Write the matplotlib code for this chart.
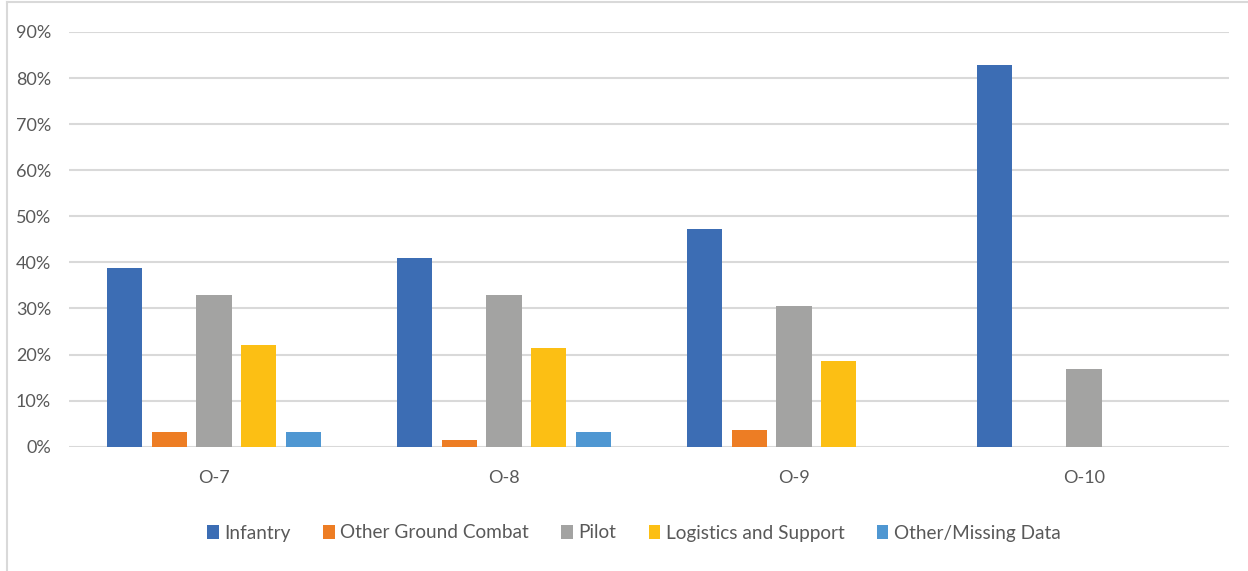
"""
Distribuição de especialidade por posto (O-7 a O-10) — gráfico de barras agrupadas.
"""

import matplotlib
matplotlib.use('Agg')  # Backend sem GUI
import matplotlib.pyplot as plt
from matplotlib import font_manager
from matplotlib.patches import Patch
from matplotlib.lines import Line2D
from matplotlib.ticker import FuncFormatter
import numpy as np

# Dados
categorias = ["O-7", "O-8", "O-9", "O-10"]
series = ["Infantry", "Other Ground Combat", "Pilot", "Logistics and Support", "Other/Missing Data"]
infantry = [0.387, 0.410, 0.473, 0.829]
other_ground = [0.031, 0.014, 0.037, 0.0]
pilot = [0.329, 0.329, 0.306, 0.169]
logistics = [0.220, 0.214, 0.186, 0.0]
other_missing = [0.031, 0.031, 0.0, 0.0]
y_ticks = [0.0, 0.1, 0.2, 0.3, 0.4, 0.5, 0.6, 0.7, 0.8, 0.9]

valores = [infantry, other_ground, pilot, logistics, other_missing]
cores = ["#3C6DB4", "#ED7D24", "#A3A3A2", "#FCBF14", "#4F97D2"]

# Fonte estreita parecida com Calibri
nomes = {f.name for f in font_manager.fontManager.ttflist}
fonte = "Liberation Sans Narrow" if "Liberation Sans Narrow" in nomes else "Lato"
plt.rcParams['font.family'] = [fonte, 'DejaVu Sans']
cor_texto = "#595959"
cor_grade = "#D9D9D9"

W, H = 1248, 571
fig = plt.figure(figsize=(W / 100, H / 100), dpi=100)
ax = fig.add_axes([69 / W, 1 - 446.7 / H, 1160 / W, 414.7 / H])

x = np.arange(len(categorias))
passo = 0.154
largura = 0.121
for i, (nome, vals, cor) in enumerate(zip(series, valores, cores)):
    ax.bar(x + (i - 2) * passo, vals, width=largura, color=cor, label=nome, zorder=3)

ax.set_xlim(-0.5, len(categorias) - 0.5)
ax.set_ylim(0, 0.9)
ax.set_yticks(y_ticks)
ax.yaxis.set_major_formatter(FuncFormatter(lambda v, p: f"{v * 100:.0f}%"))
ax.set_xticks(x)
ax.set_xticklabels(categorias)

ax.grid(axis='y', color=cor_grade, linewidth=1.5, zorder=0)
ax.set_axisbelow(True)
for s in ax.spines.values():
    s.set_visible(False)
ax.tick_params(axis='both', length=0, labelsize=13, colors=cor_texto)
ax.tick_params(axis='y', pad=13)
ax.tick_params(axis='x', pad=17)

# Legenda
handles = [Patch(facecolor=c, edgecolor='none') for c in cores]
fig.legend(handles, series, loc='center', bbox_to_anchor=(634 / W, 1 - 533 / H),
           ncol=5, frameon=False, fontsize=13.7, handlelength=0.6, handleheight=0.8,
           handletextpad=0.3, columnspacing=1.7, labelcolor=cor_texto)

# Borda do gráfico
fig.add_artist(Line2D([7 / W, 7 / W], [0, 1 - 2 / H], color=cor_grade, linewidth=1.5))
fig.add_artist(Line2D([7 / W, 1], [1 - 2 / H, 1 - 2 / H], color=cor_grade, linewidth=1.5))

fig.savefig("out.png", dpi=100)
plt.close(fig)
